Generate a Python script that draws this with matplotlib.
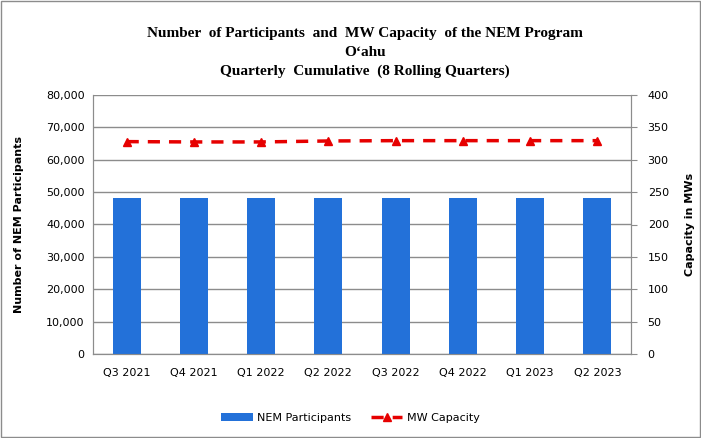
import matplotlib.pyplot as plt
import numpy as np
from matplotlib.patches import Rectangle

# === DATA ===
quarters = ["Q3 2021", "Q4 2021", "Q1 2022", "Q2 2022", "Q3 2022", "Q4 2022", "Q1 2023", "Q2 2023"]
participants = [48200, 48200, 48200, 48200, 48200, 48200, 48200, 48200]
mw_capacity = [328.0, 327.5, 327.5, 329.0, 329.5, 329.5, 329.5, 329.5]

BAR_COLOR = "#2371D9"
LINE_COLOR = "#E60000"
GRID_COLOR = "#8C8C8C"

fig = plt.figure(figsize=(7.01, 4.38), dpi=100)
ax = fig.add_axes([93 / 701, 1 - 354 / 438, 538 / 701, 259 / 438])
ax2 = ax.twinx()

x = np.arange(len(quarters))
bars = ax.bar(x, participants, width=0.42, color=BAR_COLOR, zorder=3, label="NEM Participants")
line, = ax2.plot(x, mw_capacity, color=LINE_COLOR, lw=2.5, ls=(0, (3.5, 2.6)), marker="^",
                 markersize=5.5, label="MW Capacity", zorder=4)

ax.set_xlim(-0.5, len(quarters) - 0.5)
ax.set_ylim(0, 80000)
ax.set_yticks(np.arange(0, 80001, 10000))
ax.set_yticklabels([f"{v:,}" for v in range(0, 80001, 10000)])
ax2.set_ylim(0, 400)
ax2.set_yticks(np.arange(0, 401, 50))

ax.set_xticks(x)
ax.set_xticklabels(quarters)
ax.yaxis.grid(True, color=GRID_COLOR, lw=1, zorder=0)
ax.set_axisbelow(True)

for a in (ax, ax2):
    for s in a.spines.values():
        s.set_color(GRID_COLOR)
    a.tick_params(labelsize=8, colors="black", length=0, pad=6)
    a.tick_params(axis="y", color=GRID_COLOR)
ax2.tick_params(axis="y", length=4, direction="out", pad=8)
ax.tick_params(axis="x", pad=10)
ax.spines["top"].set_visible(False)
ax2.spines["top"].set_visible(False)

ax.set_ylabel("Number of NEM Participants", fontsize=8, fontweight="bold", labelpad=16)
ax2.set_ylabel("Capacity in MWs", fontsize=8, fontweight="bold", labelpad=12)

title_x = 0.521
fig.text(title_x, 1 - 33 / 438, "Number  of Participants  and  MW Capacity  of the NEM Program",
         ha="center", va="center", fontsize=11, fontweight="bold", family="Liberation Serif")
fig.text(title_x, 1 - 52 / 438, "O\u2018ahu", ha="center", va="center", fontsize=11,
         fontweight="bold", family="Liberation Serif")
fig.text(title_x, 1 - 71 / 438, "Quarterly  Cumulative  (8 Rolling Quarters)",
         ha="center", va="center", fontsize=11, fontweight="bold", family="Liberation Serif")

fig.legend([bars, line], ["NEM Participants", "MW Capacity"], loc="center",
           bbox_to_anchor=(0.5, 1 - 418 / 438), ncol=2, frameon=False, fontsize=8,
           handlelength=2.8, handletextpad=0.4, columnspacing=1.8)

fig.patches.append(Rectangle((0.001, 0.002), 0.997, 0.996, transform=fig.transFigure,
                             fill=False, edgecolor=GRID_COLOR, lw=1))

plt.savefig("out.png", dpi=100)
plt.close()
